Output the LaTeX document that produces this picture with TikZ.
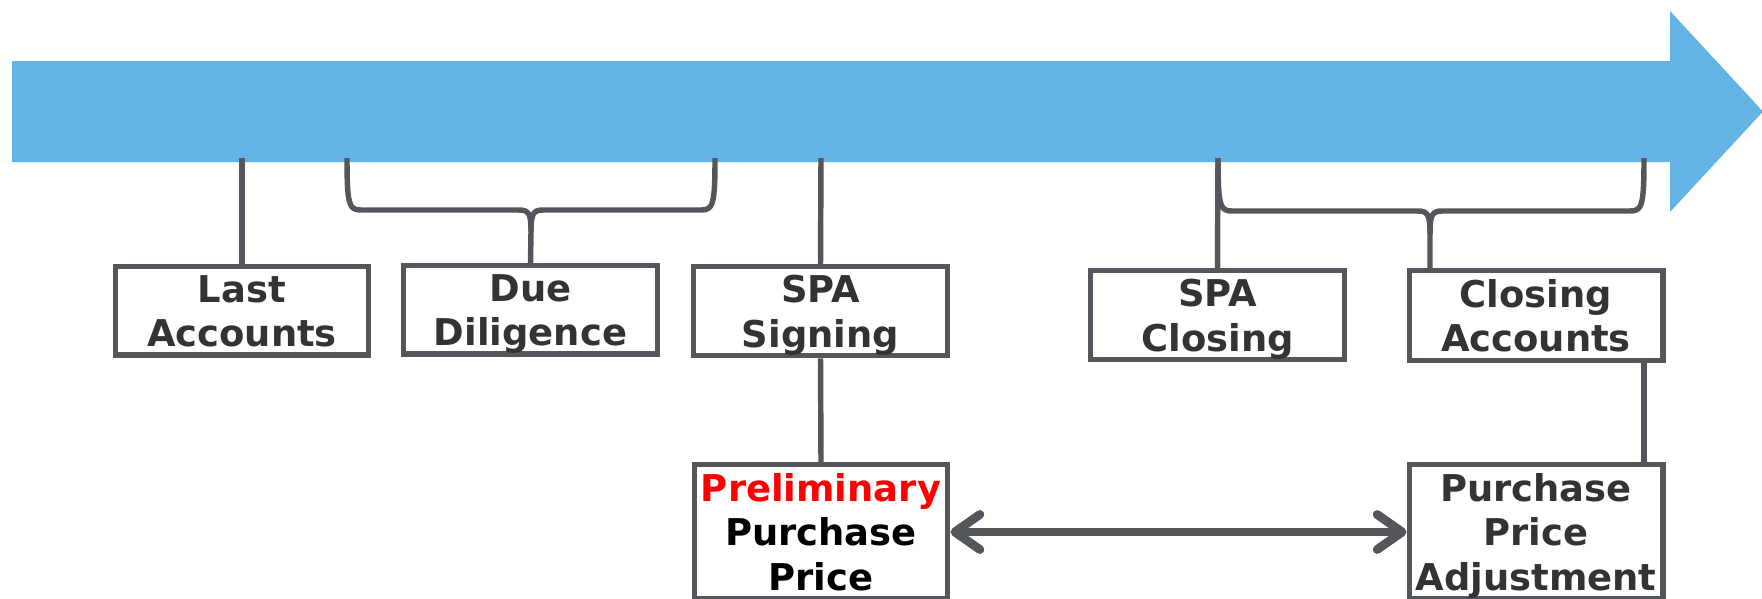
\documentclass[tikz,border=0pt]{standalone}
\usepackage{fontspec}
\setmainfont{DejaVu Sans}
\usepackage{tkz-euclide}
\usetikzlibrary{arrows.meta}
\tikzset{>=stealth}
\definecolor{barblue}{HTML}{63B4E4}
\definecolor{ink}{HTML}{53575B}
\definecolor{txt}{HTML}{333333}
\tikzset{
  stage/.style={draw=ink, line width=3.1pt, fill=white, text=txt,
    font=\fontsize{21}{25.3}\selectfont\bfseries, align=center,
    text depth=0pt, inner xsep=0pt, inner ysep=1.7mm,
    minimum width=50.7mm, anchor=north},
  link/.style={draw=ink, line width=3.1pt, line join=round},
  twoway/.style={draw=ink, line width=5pt,
    {Straight Barb[length=5mm, width=7mm, line cap=round, line join=round]}-{Straight Barb[length=5mm, width=7mm, line cap=round, line join=round]}}
}

\begin{document}
\begin{tikzpicture}[x=0.2mm, y=-0.2mm]
    \useasboundingbox (0,0) rectangle (1762,598);
    \clip (0,0) rectangle (1762,598);
    \tkzDefPoints{12/61/A, 1670/61/B, 1670/11/C, 1763/111.5/D, 1670/212/E, 1670/162/F, 12/162/G}
    \tkzDefPoints{242/158/a, 821/158/b, 1218/158/c, 1644/300/d, 1000/532/m}
    \fill[barblue] (A) -- (B) -- (C) -- (D) -- (E) -- (F) -- (G) -- cycle;

    \node[stage] (last) at (242,264) {Last\\Accounts};
    \node[stage] (dd) at (530.5,263) {Due\\Diligence};
    \node[stage] (sign) at (820.5,264) {SPA\\Signing};
    \node[stage] (close) at (1217.5,268) {SPA\\Closing};
    \node[stage] (clacc) at (1536,268) {Closing\\Accounts};
    \node[stage, text=black] (prelim) at (821,462) {\textcolor{red}{Preliminary}\\Purchase\\Price};
    \node[stage] (ppa) at (1536,462) {Purchase\\Price\\Adjustment};

    \draw[link] (a) -- (last.north);
    \draw[link] (b) -- (sign.north);
    \draw[link] (c) -- (close.north);
    \draw[link] (347,158) .. controls (347,205) and (349,210) .. (361,210) -- (519,210)
      .. controls (529,210) and (531,214) .. (531,232) -- (dd.north);
    \draw[link] (715,158) .. controls (715,205) and (713,210) .. (701,210) -- (543,210)
      .. controls (533,210) and (531,214) .. (531,232);
    \draw[link] (1218,158) .. controls (1218,206) and (1220,211) .. (1232,211) -- (1418,211)
      .. controls (1428,211) and (1430,215) .. (1430,234) -- (1430,268);
    \draw[link] (1644,158) .. controls (1644,206) and (1642,211) .. (1630,211) -- (1442,211)
      .. controls (1432,211) and (1430,215) .. (1430,234);

    \draw[link] (sign.south) -- (prelim.north);
    \draw[link] (d |- clacc.south) -- (d |- ppa.north);
    \draw[twoway] (prelim.east |- m) -- (ppa.west |- m);
\end{tikzpicture}
\end{document}
